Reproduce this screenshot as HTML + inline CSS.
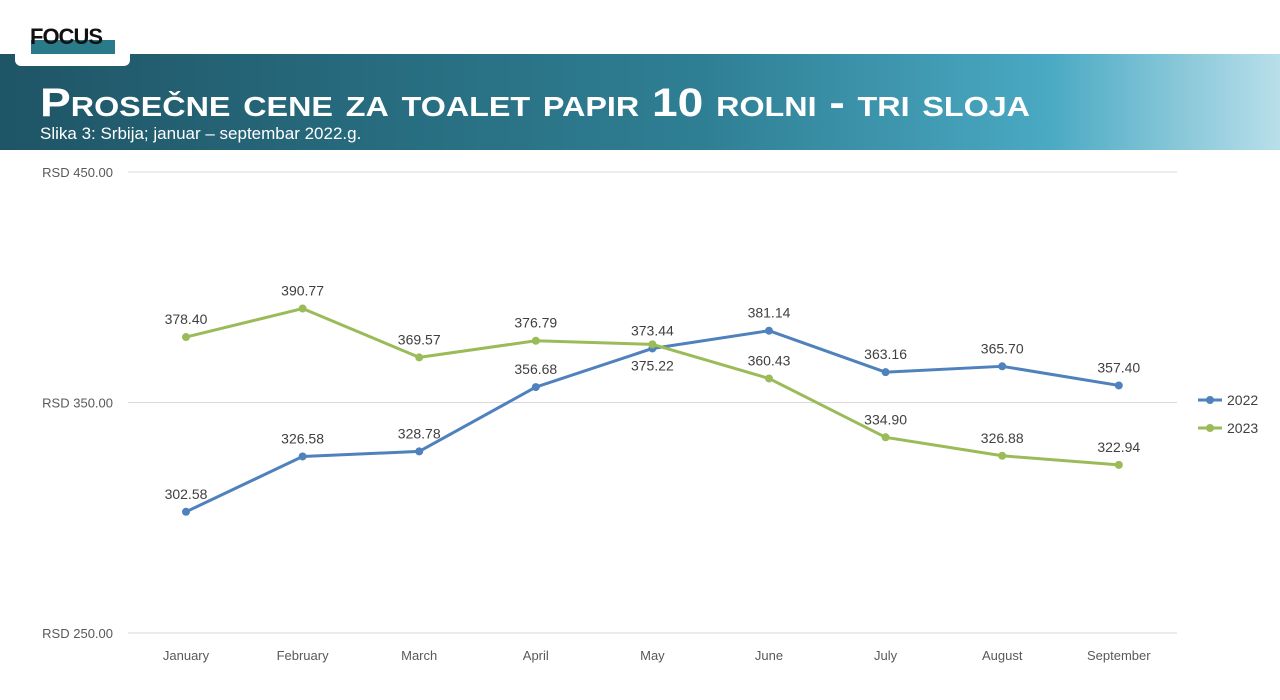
<!DOCTYPE html>
<html><head><meta charset="utf-8"><style>
html,body{margin:0;padding:0;background:#fff;}
body{width:1280px;height:695px;overflow:hidden;font-family:"Liberation Sans",sans-serif;}
</style></head><body>
<svg width="1280" height="695" viewBox="0 0 1280 695" xmlns="http://www.w3.org/2000/svg">
<defs>
<linearGradient id="hg" x1="0" x2="1" y1="0" y2="0">
<stop offset="0" stop-color="#1f5566"/>
<stop offset="0.55" stop-color="#2f7f94"/>
<stop offset="0.82" stop-color="#4aa9c3"/>
<stop offset="1" stop-color="#b8dfea"/>
</linearGradient>
</defs>
<rect x="0" y="54" width="1280" height="96" fill="url(#hg)"/>
<rect x="15" y="0" width="115" height="66" rx="6" fill="#fff"/>
<rect x="31" y="40" width="84" height="14" fill="#2a7a8a"/>
<text x="30" y="44" font-size="22" font-weight="bold" fill="#111" font-family="Liberation Sans, sans-serif" letter-spacing="-1">FOCUS</text>
<text x="40" y="116" font-size="40" font-weight="bold" fill="#fff" style="font-variant:small-caps" textLength="990" lengthAdjust="spacingAndGlyphs">Prosečne cene za toalet papir  10 rolni - tri sloja</text>
<text x="40" y="139" font-size="17" fill="#fff">Slika 3: Srbija; januar – septembar 2022.g.</text>
<g id="plot"></g>
</svg>
<script>
const categories=["January","February","March","April","May","June","July","August","September"];
const series2022=[302.58,326.58,328.78,356.68,373.44,381.14,363.16,365.70,357.40];
const series2023=[378.40,390.77,369.57,376.79,375.22,360.43,334.90,326.88,322.94];
const yTicks=[250,350,450];
const yTickLabels=["RSD 250.00","RSD 350.00","RSD 450.00"];
const seriesNames=["2022","2023"];
const colors=["#4f81bd","#9bbb59"];
const NS="http://www.w3.org/2000/svg";
const g=document.getElementById('plot');
const y=v=>633-(v-250)*(461/200);
const x=i=>186+i*116.6;
function mk(t,a,txt){const e=document.createElementNS(NS,t);for(const k in a)e.setAttribute(k,a[k]);if(txt!==undefined)e.textContent=txt;g.appendChild(e);return e;}
yTicks.forEach((v,i)=>{
 const l=mk('line',{x1:128,x2:1177,y1:y(v),y2:y(v),stroke:'#d9d9d9','stroke-width':1});
 
 
 const t=mk('text',{x:113,y:y(v)+5,'text-anchor':'end','font-size':13,fill:'#595959'},yTickLabels[i]);
 
 
});
categories.forEach((c,i)=>{
 const t=mk('text',{x:x(i),y:660,'text-anchor':'middle','font-size':13,fill:'#595959'},c);
 
 
});
[series2022,series2023].forEach((s,si)=>{
 const p=mk('polyline',{points:s.map((v,i)=>x(i)+','+y(v)).join(' '),fill:'none',stroke:colors[si],'stroke-width':3,'stroke-linejoin':'round'});
 
 
 s.forEach((v,i)=>{
  const c=mk('circle',{cx:x(i),cy:y(v),r:4,fill:colors[si]});
  
  
  const below=(si===1&&i===4);
  const t=mk('text',{x:x(i),y:below?y(v)+26:y(v)-13,'text-anchor':'middle','font-size':14,fill:'#404040'},v.toFixed(2));
  
  
 });
 const ly=400+si*28;
 const ll=mk('line',{x1:1198,x2:1222,y1:ly,y2:ly,stroke:colors[si],'stroke-width':3});
 
 
 const lc=mk('circle',{cx:1210,cy:ly,r:4,fill:colors[si]});
 
 
 const lt=mk('text',{x:1227,y:ly+5,'font-size':14,fill:'#404040'},seriesNames[si]);
 
 
});
</script>
</body></html>
